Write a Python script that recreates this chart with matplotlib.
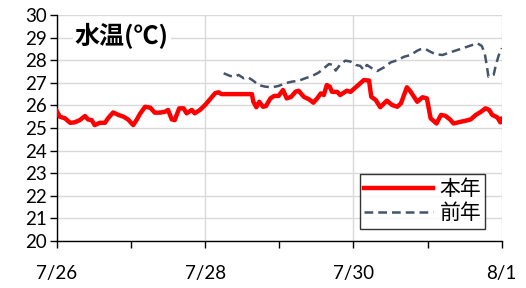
import matplotlib
matplotlib.use("Agg")
import matplotlib.pyplot as plt
from matplotlib.ticker import MultipleLocator

plt.rcParams['font.family'] = ['Lato', 'Noto Sans CJK JP', 'DejaVu Sans']

# days since 7/26 00:00
days_now = [0.0, 0.04, 0.11, 0.18, 0.24, 0.31, 0.38, 0.42, 0.47, 0.51, 0.58, 0.65, 0.69,
            0.76, 0.83, 0.90, 0.96, 1.03, 1.08, 1.12, 1.19, 1.26, 1.32, 1.39, 1.46, 1.50,
            1.55, 1.59, 1.65, 1.71, 1.75, 1.82, 1.86, 1.93, 2.0, 2.07, 2.135, 2.18, 2.22,
            2.63, 2.65, 2.69, 2.73, 2.78, 2.82, 2.88, 2.93, 2.99, 3.05, 3.10, 3.16, 3.22,
            3.26, 3.33, 3.40, 3.46, 3.51, 3.56, 3.60, 3.64, 3.68, 3.71, 3.78, 3.82, 3.91,
            3.96, 4.03, 4.14, 4.21, 4.24, 4.30, 4.36, 4.45, 4.52, 4.59, 4.64, 4.72, 4.77,
            4.86, 4.93, 4.99, 5.04, 5.12, 5.18, 5.24, 5.30, 5.35, 5.45, 5.51, 5.58, 5.65,
            5.72, 5.78, 5.83, 5.87, 5.94, 5.98, 6.0]
temp_now = [25.75, 25.5, 25.43, 25.23, 25.25, 25.35, 25.53, 25.38, 25.35, 25.13, 25.23, 25.23, 25.43,
            25.69, 25.58, 25.5, 25.38, 25.13, 25.38, 25.62, 25.94, 25.9, 25.68, 25.68, 25.72, 25.8,
            25.38, 25.35, 25.87, 25.87, 25.65, 25.8, 25.65, 25.8, 26.02, 26.29, 26.54, 26.58, 26.5,
            26.5, 26.16, 25.92, 26.16, 25.94, 25.97, 26.31, 26.42, 26.42, 26.68, 26.31, 26.38, 26.61,
            26.65, 26.38, 26.27, 26.12, 26.31, 26.53, 26.46, 26.9, 26.83, 26.6, 26.6, 26.46, 26.65,
            26.6, 26.8, 27.12, 27.1, 26.38, 26.24, 25.92, 26.21, 26.02, 25.94, 26.09, 26.8, 26.61,
            26.16, 26.36, 26.31, 25.43, 25.2, 25.58, 25.54, 25.38, 25.2, 25.28, 25.32, 25.38, 25.58,
            25.72, 25.87, 25.8, 25.58, 25.47, 25.25, 25.4]

days_prev = [2.25, 2.34, 2.40, 2.45, 2.52, 2.58, 2.65, 2.72, 2.81, 2.90, 2.99, 3.08, 3.17,
             3.26, 3.35, 3.44, 3.53, 3.60, 3.67, 3.71, 3.76, 3.82, 3.89, 3.96, 4.03, 4.09,
             4.14, 4.18, 4.25, 4.32, 4.41, 4.50, 4.59, 4.68, 4.77, 4.86, 4.90, 4.97, 5.01,
             5.10, 5.20, 5.29, 5.40, 5.51, 5.60, 5.67, 5.73, 5.77, 5.80, 5.82, 5.89, 5.92,
             5.96, 6.0]
temp_prev = [27.42, 27.3, 27.27, 27.35, 27.2, 27.24, 27.09, 26.9, 26.83, 26.8, 26.86, 26.98, 27.05,
             27.09, 27.2, 27.3, 27.45, 27.64, 27.83, 27.8, 27.54, 27.8, 27.98, 27.94, 27.79, 27.75,
             27.57, 27.79, 27.64, 27.52, 27.68, 27.9, 28.0, 28.15, 28.23, 28.42, 28.48, 28.5, 28.42,
             28.27, 28.23, 28.33, 28.45, 28.57, 28.67, 28.75, 28.63, 28.3, 27.71, 27.27, 27.35, 27.79,
             28.23, 28.53]

xtick_pos = [0, 2, 4, 6]
xtick_labels = ['7/26', '7/28', '7/30', '8/1']

fig = plt.figure(figsize=(5.26, 2.88), dpi=100)
ax = fig.add_axes([0.108, 0.163, 0.846, 0.785])

ax.plot(days_now, temp_now, color='#FF0000', lw=3.2, label='本年', zorder=3,
        solid_joinstyle='round')
ax.plot(days_prev, temp_prev, color='#44546A', lw=1.8, ls=(0, (3.5, 2)), label='前年', zorder=2)

ax.set_xlim(0, 6)
ax.set_ylim(20, 30)
ax.set_xticks(xtick_pos)
ax.set_xticklabels(xtick_labels)
ax.xaxis.set_minor_locator(MultipleLocator(1))
ax.yaxis.set_major_locator(MultipleLocator(1))

ax.grid(True, which='major', color='#D9D9D9', lw=1.0)
ax.set_axisbelow(True)
for s in ['top', 'right']:
    ax.spines[s].set_visible(False)
for s in ['left', 'bottom']:
    ax.spines[s].set_color('black')
    ax.spines[s].set_linewidth(1.0)

ax.tick_params(axis='both', which='both', direction='out', length=5, width=1, color='black',
               labelsize=13.5)
ax.tick_params(axis='x', pad=12)
ax.tick_params(axis='y', pad=2)

ax.text(0.04, 0.965, '水温(℃)', transform=ax.transAxes, ha='left', va='top',
        fontsize=18, fontweight='bold', family=['Noto Sans CJK JP', 'DejaVu Sans'],
        bbox=dict(facecolor='white', edgecolor='none', pad=1.5), zorder=4)

leg = ax.legend(loc='lower right', bbox_to_anchor=(0.963, 0.055),
                prop={'family': ['Noto Sans CJK JP'], 'size': 15},
                frameon=True, fancybox=False, edgecolor='black', handlelength=3.3,
                borderpad=0.2, labelspacing=0.1, handletextpad=0.3, borderaxespad=0)
leg.get_frame().set_linewidth(1.0)

fig.savefig('out.png', dpi=100)
